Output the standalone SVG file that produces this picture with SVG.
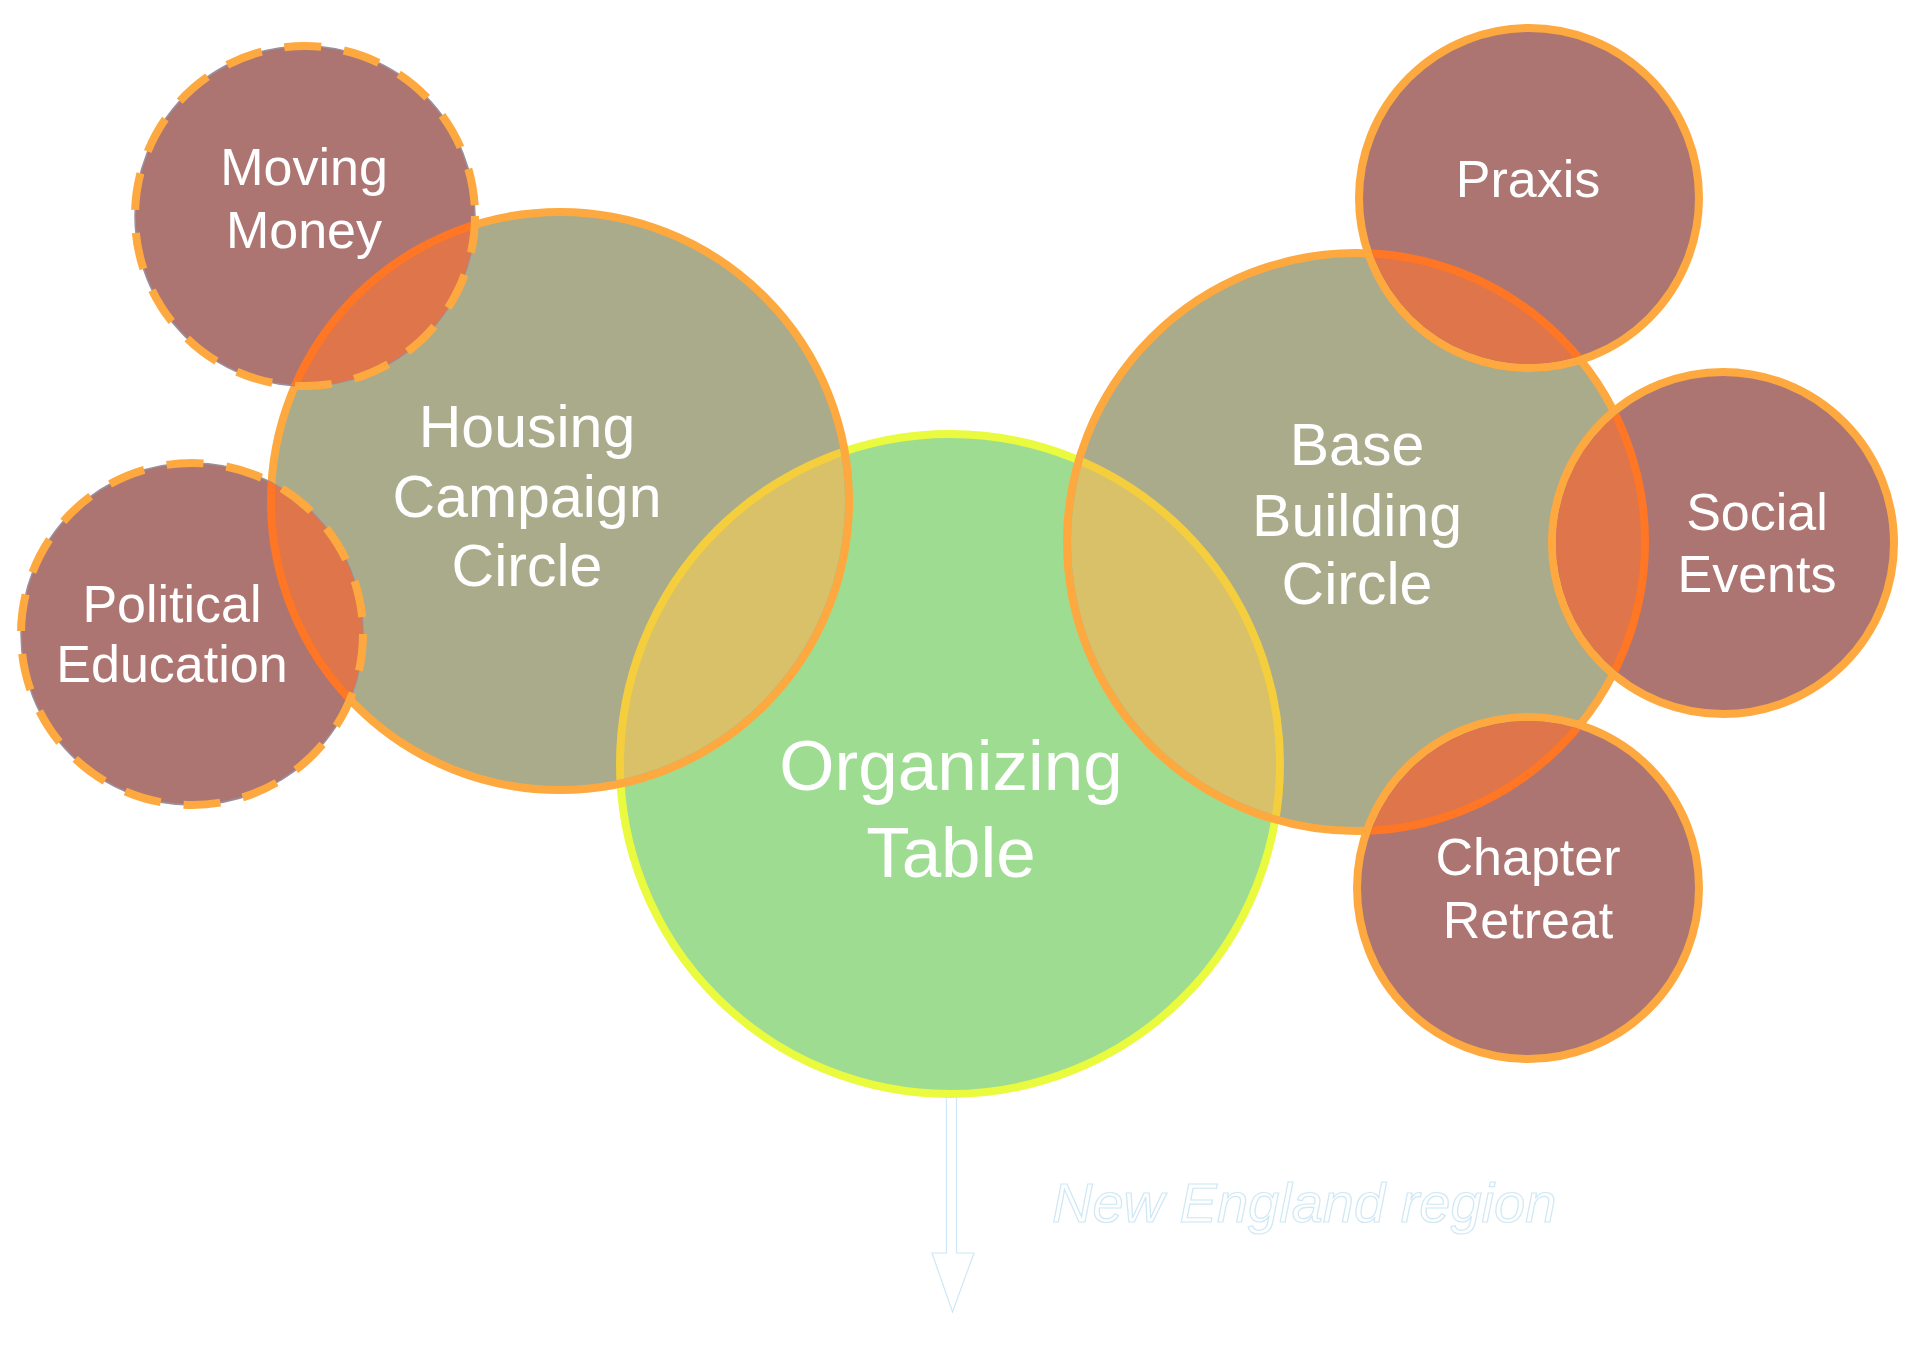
<svg xmlns="http://www.w3.org/2000/svg" width="1920" height="1346" viewBox="0 0 1920 1346">
<style>
.lbl{font-family:"Liberation Sans",Arial,sans-serif;fill:#ffffff;text-anchor:middle}
.s{font-size:52px}
.m{font-size:59px}
.l{font-size:71px}
.big{fill:#AAAB8A;stroke:#FDA93F;stroke-width:8}
.grn{fill:#9EDC92;stroke:#EAFA3E;stroke-width:8}
.brn{fill:#AD7571;stroke:#FDA93F;stroke-width:8}
.brnd{fill:none;stroke:#FDA93F;stroke-width:8;stroke-dasharray:37 23}
.edge{fill:none;stroke:#9A8F9C;stroke-width:1.5}
.ovo{fill:#DE754B;stroke:#FF7624;stroke-width:8}
.ovy{fill:#D8C168;stroke:#F5CE3E;stroke-width:8}
.note{font-family:"Liberation Sans",Arial,sans-serif;font-style:italic;font-size:56px;fill:#ffffff;stroke:#CFE8F5;stroke-width:1.2}
</style>
<defs>
<clipPath id="cHousing"><circle cx="560" cy="501" r="285"/></clipPath>
<clipPath id="cBase"><circle cx="1356" cy="542" r="285"/></clipPath>
<clipPath id="cMoving"><circle cx="305" cy="216" r="170"/></clipPath>
<clipPath id="cPolitical"><circle cx="192" cy="634" r="171"/></clipPath>
<clipPath id="cPraxis"><circle cx="1529" cy="198" r="166"/></clipPath>
<clipPath id="cSocial"><circle cx="1723" cy="543" r="167"/></clipPath>
<clipPath id="cChapter"><circle cx="1528" cy="888" r="167"/></clipPath>
</defs>
<rect width="1920" height="1346" fill="#ffffff"/>

<g id="connectors">
<path d="M946.5,1096 L956.5,1096 L956.5,1253 L974,1253 L952.5,1312 L932,1253 L946.5,1253 Z" fill="#ffffff" stroke="#CFE8F5" stroke-width="1.2"/>
</g>

<g id="organizing-table">
<circle class="grn" cx="950" cy="764" r="330"/>
</g>

<g id="housing-campaign-circle">
<circle class="big" cx="560" cy="501" r="289"/>
<g clip-path="url(#cHousing)"><circle class="ovy" cx="950" cy="764" r="330"/></g>
</g>

<g id="base-building-circle">
<circle class="big" cx="1356" cy="542" r="289"/>
<g clip-path="url(#cBase)"><circle class="ovy" cx="950" cy="764" r="330"/></g>
</g>

<g id="moving-money">
<circle cx="305" cy="216" r="170" fill="#AD7571"/>
<circle class="edge" cx="305" cy="216" r="170"/>
<g clip-path="url(#cMoving)"><circle class="ovo" cx="560" cy="501" r="289"/></g>
<circle class="brnd" cx="305" cy="216" r="170"/>
<text class="lbl s" x="304" y="185">Moving</text>
<text class="lbl s" x="304" y="248">Money</text>
</g>

<g id="political-education">
<circle cx="192" cy="634" r="171" fill="#AD7571"/>
<circle class="edge" cx="192" cy="634" r="171"/>
<g clip-path="url(#cPolitical)"><circle class="ovo" cx="560" cy="501" r="289"/></g>
<circle class="brnd" cx="192" cy="634" r="171"/>
<text class="lbl s" x="172" y="622">Political</text>
<text class="lbl s" x="172" y="682">Education</text>
</g>

<g id="praxis">
<circle class="brn" cx="1529" cy="198" r="170"/>
<g clip-path="url(#cPraxis)"><circle class="ovo" cx="1356" cy="542" r="289"/></g>
<text class="lbl s" x="1528" y="197">Praxis</text>
</g>

<g id="social-events">
<circle class="brn" cx="1723" cy="543" r="171"/>
<g clip-path="url(#cSocial)"><circle class="ovo" cx="1356" cy="542" r="289"/></g>
<text class="lbl s" x="1757" y="530">Social</text>
<text class="lbl s" x="1757" y="592">Events</text>
</g>

<g id="chapter-retreat">
<circle class="brn" cx="1528" cy="888" r="171"/>
<g clip-path="url(#cChapter)"><circle class="ovo" cx="1356" cy="542" r="289"/></g>
<text class="lbl s" x="1528" y="875">Chapter</text>
<text class="lbl s" x="1528" y="938">Retreat</text>
</g>

<g id="labels-big">
<text class="lbl m" x="527" y="447">Housing</text>
<text class="lbl m" x="527" y="517">Campaign</text>
<text class="lbl m" x="527" y="586">Circle</text>
<text class="lbl m" x="1357" y="465">Base</text>
<text class="lbl m" x="1357" y="536">Building</text>
<text class="lbl m" x="1357" y="604">Circle</text>
<text class="lbl l" x="951" y="790">Organizing</text>
<text class="lbl l" x="951" y="877">Table</text>
</g>

<text class="note" x="1052" y="1222">New England region</text>
</svg>
